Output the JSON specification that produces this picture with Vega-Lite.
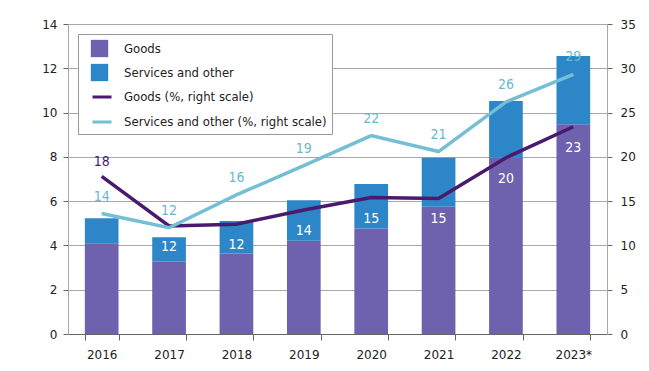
{
  "$schema": "https://vega.github.io/schema/vega-lite/v6.json",
  "width": 539,
  "height": 310,
  "autosize": {"type": "none"},
  "padding": {"left": 68, "top": 24, "right": 42, "bottom": 37},
  "background": "white",
  "config": {
    "view": {"stroke": null},
    "font": "DejaVu Sans",
    "axis": {"labelFont": "DejaVu Sans", "labelFontSize": 12, "labelColor": "#222222"}
  },
  "datasets": {
    "bars": [
      {"year": "2016", "series": "Goods", "value": 4.1},
      {"year": "2016", "series": "Services and other", "value": 1.13},
      {"year": "2017", "series": "Goods", "value": 3.27},
      {"year": "2017", "series": "Services and other", "value": 1.1},
      {"year": "2018", "series": "Goods", "value": 3.64},
      {"year": "2018", "series": "Services and other", "value": 1.46},
      {"year": "2019", "series": "Goods", "value": 4.21},
      {"year": "2019", "series": "Services and other", "value": 1.83},
      {"year": "2020", "series": "Goods", "value": 4.77},
      {"year": "2020", "series": "Services and other", "value": 2.0},
      {"year": "2021", "series": "Goods", "value": 5.75},
      {"year": "2021", "series": "Services and other", "value": 2.21},
      {"year": "2022", "series": "Goods", "value": 7.96},
      {"year": "2022", "series": "Services and other", "value": 2.56},
      {"year": "2023*", "series": "Goods", "value": 9.47},
      {"year": "2023*", "series": "Services and other", "value": 3.09}
    ],
    "lines": [
      {"year": "2016", "series": "Goods (%, right scale)", "pct": 17.8},
      {"year": "2017", "series": "Goods (%, right scale)", "pct": 12.2},
      {"year": "2018", "series": "Goods (%, right scale)", "pct": 12.4},
      {"year": "2019", "series": "Goods (%, right scale)", "pct": 14.0},
      {"year": "2020", "series": "Goods (%, right scale)", "pct": 15.4},
      {"year": "2021", "series": "Goods (%, right scale)", "pct": 15.3},
      {"year": "2022", "series": "Goods (%, right scale)", "pct": 19.9},
      {"year": "2023*", "series": "Goods (%, right scale)", "pct": 23.4},
      {"year": "2016", "series": "Services and other (%, right scale)", "pct": 13.6},
      {"year": "2017", "series": "Services and other (%, right scale)", "pct": 12.0},
      {"year": "2018", "series": "Services and other (%, right scale)", "pct": 15.7},
      {"year": "2019", "series": "Services and other (%, right scale)", "pct": 19.0},
      {"year": "2020", "series": "Services and other (%, right scale)", "pct": 22.4},
      {"year": "2021", "series": "Services and other (%, right scale)", "pct": 20.6},
      {"year": "2022", "series": "Services and other (%, right scale)", "pct": 26.2},
      {"year": "2023*", "series": "Services and other (%, right scale)", "pct": 29.3}
    ]
  },
  "layer": [
    {
      "data": {"name": "bars"},
      "mark": {"type": "bar"},
      "encoding": {
        "x": {
          "field": "year", "type": "ordinal", "sort": null,
          "scale": {"paddingInner": 0.5, "paddingOuter": 0.25},
          "axis": {"title": null, "labelAngle": 0, "tickBand": "extent", "domainColor": "#666666", "tickColor": "#666666", "tickSize": 6, "labelPadding": 9}
        },
        "y": {
          "field": "value", "type": "quantitative", "stack": "zero",
          "scale": {"domain": [0, 14]},
          "axis": {"title": null, "values": [0, 2, 4, 6, 8, 10, 12, 14], "grid": true, "gridColor": "#a8a8a8", "domainColor": "#a8a8a8", "tickColor": "#666666", "tickSize": 5, "labelPadding": 6}
        },
        "order": {"field": "series", "sort": "ascending"},
        "color": {
          "field": "series", "type": "nominal",
          "scale": {"domain": ["Goods", "Services and other"], "range": ["#6e61ad", "#2d86c8"]},
          "legend": {
            "title": null, "orient": "none", "legendX": 10, "legendY": 10, "zindex": 2,
            "padding": 5,
            "labelFont": "DejaVu Sans Condensed", "labelFontSize": 13, "labelColor": "#222222", "labelLimit": 400,
            "symbolType": "square", "symbolSize": 300, "symbolOffset": 7, "labelOffset": 15, "rowPadding": 5
          }
        }
      }
    },
    {
      "data": {"name": "lines"},
      "encoding": {
        "x": {"field": "year", "type": "ordinal", "sort": null},
        "y": {
          "field": "pct", "type": "quantitative",
          "scale": {"domain": [0, 35]},
          "axis": {"title": null, "orient": "right", "values": [0, 5, 10, 15, 20, 25, 30, 35], "grid": false, "domainColor": "#a8a8a8", "tickColor": "#666666", "tickSize": 5, "labelPadding": 8}
        }
      },
      "layer": [
        {
          "mark": {"type": "line", "strokeWidth": 3.5},
          "encoding": {
            "color": {
              "field": "series", "type": "nominal",
              "scale": {"domain": ["Goods (%, right scale)", "Services and other (%, right scale)"], "range": ["#4a1a6e", "#74bfd3"]},
              "legend": {
                "title": " ", "titleFontSize": 1, "titlePadding": 46,
                "orient": "none", "legendX": 10, "legendY": 10, "zindex": 1,
                "fillColor": "white", "strokeColor": "#999999", "padding": 5,
                "labelFont": "DejaVu Sans Condensed", "labelFontSize": 13, "labelColor": "#222222", "labelLimit": 400,
                "symbolType": "stroke", "symbolSize": 361, "symbolStrokeWidth": 3, "symbolOffset": 8, "labelOffset": 11, "rowPadding": 7
              }
            }
          }
        },
        {
          "transform": [{"filter": "datum.series == 'Services and other (%, right scale)'"}],
          "mark": {"type": "text", "dy": -17, "font": "DejaVu Sans Condensed", "fontSize": 14, "color": "#6cb8cd"},
          "encoding": {"text": {"field": "pct", "type": "quantitative", "format": ".0f"}}
        },
        {
          "transform": [{"filter": "datum.series == 'Goods (%, right scale)' && datum.year != '2016'"}],
          "mark": {"type": "text", "dy": 21, "font": "DejaVu Sans Condensed", "fontSize": 14, "color": "white"},
          "encoding": {"text": {"field": "pct", "type": "quantitative", "format": ".0f"}}
        },
        {
          "transform": [{"filter": "datum.series == 'Goods (%, right scale)' && datum.year == '2016'"}],
          "mark": {"type": "text", "dy": -14, "font": "DejaVu Sans Condensed", "fontSize": 14, "color": "#4a1a6e"},
          "encoding": {"text": {"field": "pct", "type": "quantitative", "format": ".0f"}}
        }
      ]
    }
  ],
  "resolve": {"scale": {"y": "independent", "color": "independent"}}
}
